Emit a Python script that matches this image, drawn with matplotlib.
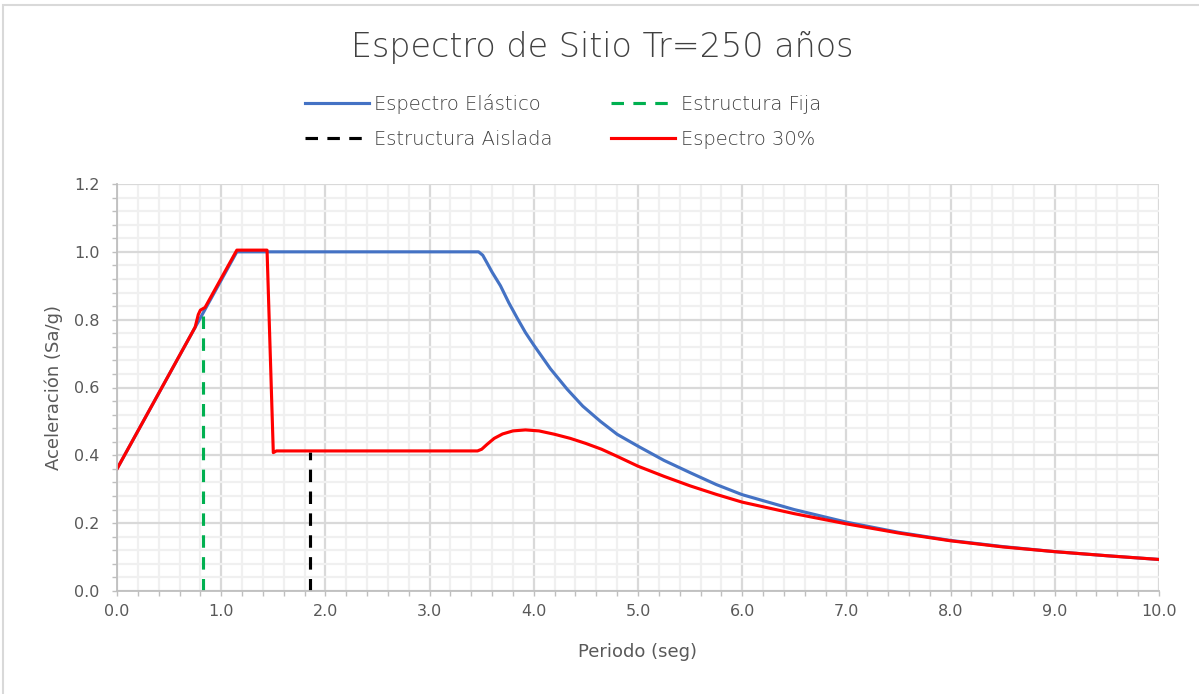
import matplotlib

matplotlib.use("Agg")
import matplotlib.pyplot as plt
from matplotlib.patches import Rectangle
from matplotlib.ticker import MultipleLocator, FormatStrFormatter

# Espectro elastico
elastico_T = [0.0, 1.15, 3.47, 3.51, 3.55, 3.60, 3.68, 3.76, 3.84, 3.92, 4.0, 4.16, 4.32, 4.47,
              4.64, 4.80, 5.0, 5.25, 5.5, 5.75, 6.0, 6.5, 7.0, 7.5, 8.0, 8.5, 9.0, 9.5, 10.0]
elastico_Sa = [0.36, 1.0, 1.0, 0.99, 0.968, 0.94, 0.90, 0.85, 0.805, 0.762, 0.725, 0.655, 0.595, 0.545,
               0.50, 0.462, 0.427, 0.385, 0.349, 0.314, 0.284, 0.240, 0.203, 0.173, 0.149, 0.131,
               0.116, 0.104, 0.093]

# Espectro 30%
esp30_T = [0.0, 0.75, 0.78, 0.80, 0.845, 1.15, 1.44, 1.50, 1.53, 3.46, 3.50, 3.55, 3.62,
           3.70, 3.80, 3.92, 4.05, 4.20, 4.35, 4.50, 4.65, 4.80, 5.0, 5.25, 5.5, 5.75,
           6.0, 6.5, 7.0, 7.5, 8.0, 8.5, 9.0, 9.5, 10.0]
esp30_Sa = [0.36, 0.778, 0.815, 0.828, 0.836, 1.005, 1.005, 0.408, 0.413, 0.413, 0.418, 0.432, 0.450,
            0.463, 0.472, 0.475, 0.472, 0.462, 0.450, 0.435, 0.418, 0.397, 0.368, 0.338, 0.310, 0.285,
            0.262, 0.228, 0.198, 0.171, 0.148, 0.130, 0.116, 0.104, 0.093]

# periodos de las estructuras
fija_T = [0.83, 0.83]
fija_Sa = [0.0, 0.83]
aislada_T = [1.85, 1.85]
aislada_Sa = [0.0, 0.41]

BLUE = "#4472C4"
GREEN = "#00B050"
BLACK = "#000000"
RED = "#FF0000"
TXT = "#595959"

W, H = 1199, 694
fig = plt.figure(figsize=(W / 100, H / 100), dpi=100)
ax = fig.add_axes([117 / W, 1 - 591 / H, (1159 - 117) / W, (591 - 184) / H])

lw = 2.25
dash = (0, (4, 3))
l_el, = ax.plot(elastico_T, elastico_Sa, color=BLUE, lw=lw, solid_joinstyle="round")
l_fi, = ax.plot(fija_T, fija_Sa, color=GREEN, lw=lw, linestyle=dash)
l_ai, = ax.plot(aislada_T, aislada_Sa, color=BLACK, lw=lw, linestyle=dash)
l_30, = ax.plot(esp30_T, esp30_Sa, color=RED, lw=lw, solid_joinstyle="round")

ax.set_xlim(0, 10)
ax.set_ylim(0, 1.2)
ax.xaxis.set_major_locator(MultipleLocator(1.0))
ax.xaxis.set_minor_locator(MultipleLocator(0.2))
ax.yaxis.set_major_locator(MultipleLocator(0.2))
ax.yaxis.set_minor_locator(MultipleLocator(0.04))
ax.xaxis.set_major_formatter(FormatStrFormatter("%.1f"))
ax.yaxis.set_major_formatter(FormatStrFormatter("%.1f"))

ax.set_axisbelow(True)
ax.grid(which="minor", color="#f0f0f0", lw=1.6)
ax.grid(which="major", color="#d9d9d9", lw=1.6)

for s in ["top", "right"]:
    ax.spines[s].set_visible(False)
for s in ["left", "bottom"]:
    ax.spines[s].set_color("#bfbfbf")
    ax.spines[s].set_linewidth(1.3)

ax.tick_params(which="both", direction="out", length=3.6, width=1.0, color="#bfbfbf")
ax.tick_params(axis="both", which="major", labelsize=11.5, labelcolor=TXT)
ax.tick_params(axis="x", which="major", pad=6)
ax.tick_params(axis="y", which="major", pad=9)

ax.set_xlabel("Periodo (seg)", fontsize=13, color=TXT)
ax.set_ylabel("Aceleración (Sa/g)", fontsize=13, color=TXT)
ax.xaxis.set_label_coords(0.5, -0.128)
ax.yaxis.set_label_coords(-0.052, 0.5)

fig.text(602.5 / W, 1 - 56.7 / H, "Espectro de Sitio Tr=250 años", ha="center",
         va="baseline", fontsize=24, color="#404040", fontweight="light")

handles = [l_el, l_ai, l_fi, l_30]
labels = ["Espectro Elástico", "Estructura Aislada", "Estructura Fija", "Espectro 30%"]
fig.legend(handles, labels, ncol=2, loc="center left", bbox_to_anchor=(287 / W, 1 - 121.5 / H),
           frameon=False, prop={"size": 14, "weight": "light"}, labelcolor="#404040",
           handlelength=3.3, handletextpad=0.3, columnspacing=3.0, labelspacing=0.8)

# borde del area del grafico
fig.patches.append(Rectangle((3 / W, -0.05), 1.1, 1 - 5 / H + 0.05, transform=fig.transFigure,
                             fill=False, edgecolor="#d9d9d9", lw=1.5, clip_on=False))

fig.savefig("out.png", dpi=100)
